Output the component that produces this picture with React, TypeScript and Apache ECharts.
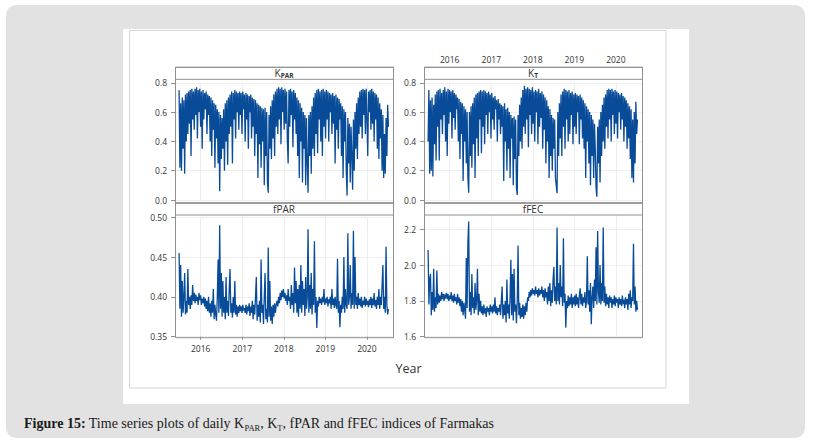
import React, { useEffect, useRef } from "react";
import * as echarts from "echarts";

// Weekly samples of the daily series, starting late June 2015
const startDate = Date.UTC(2015, 5, 25);
const stepDays = 7;
const yearTicks = [2016, 2017, 2018, 2019, 2020];

const kparValues = [
  0.75, 0.22, 0.66, 0.20, 0.70, 0.35, 0.68, 0.18, 0.72, 0.40,
  0.73, 0.45, 0.74, 0.52, 0.75, 0.30, 0.76, 0.55, 0.74, 0.48,
  0.76, 0.58, 0.77, 0.42, 0.75, 0.60, 0.76, 0.50, 0.74, 0.35,
  0.75, 0.55, 0.73, 0.62, 0.74, 0.45, 0.72, 0.58, 0.71,
  0.40, 0.70, 0.30, 0.68, 0.48, 0.66, 0.22, 0.65, 0.42, 0.62, 0.25, 0.60, 0.06,
  0.58, 0.28, 0.56, 0.35, 0.62, 0.20, 0.66, 0.40, 0.68, 0.24, 0.70, 0.45, 0.72,
  0.50, 0.74, 0.25, 0.73, 0.55, 0.75, 0.42, 0.74, 0.60, 0.73, 0.48, 0.74,
  0.58, 0.73, 0.45, 0.74, 0.62, 0.72, 0.40, 0.73, 0.55, 0.72, 0.35, 0.71, 0.60, 0.72, 0.42, 0.70, 0.50,
  0.69, 0.30, 0.68, 0.45, 0.66, 0.15, 0.65, 0.38, 0.64, 0.22, 0.63, 0.40, 0.62, 0.10, 0.63, 0.30, 0.60, 0.12, 0.05,
  0.58, 0.35, 0.64, 0.28, 0.68, 0.42, 0.72, 0.30, 0.74, 0.50,
  0.76, 0.45, 0.77, 0.55, 0.76, 0.38, 0.77, 0.60, 0.75, 0.48, 0.76, 0.52, 0.74, 0.40, 0.25,
  0.75, 0.50, 0.76, 0.58, 0.74, 0.36, 0.75, 0.55, 0.73, 0.45,
  0.70, 0.30, 0.68, 0.15, 0.66, 0.40, 0.63, 0.12, 0.60, 0.35, 0.58, 0.10, 0.56,
  0.25, 0.05, 0.58, 0.30, 0.60, 0.18, 0.64, 0.35,
  0.70, 0.30, 0.73, 0.45, 0.75, 0.32, 0.76, 0.55, 0.74, 0.40, 0.75, 0.30, 0.76, 0.50, 0.74, 0.42, 0.75,
  0.55, 0.74, 0.40, 0.73, 0.60, 0.72, 0.45, 0.73, 0.52, 0.71, 0.25, 0.72, 0.48, 0.70, 0.35, 0.69, 0.55,
  0.66, 0.30, 0.64, 0.15, 0.62, 0.40, 0.60, 0.20, 0.03, 0.56, 0.25, 0.52, 0.12, 0.50, 0.30, 0.07, 0.55,
  0.20, 0.60, 0.35, 0.66, 0.28, 0.70, 0.45, 0.74,
  0.50, 0.75, 0.42, 0.76, 0.58, 0.75, 0.45, 0.76, 0.55, 0.30, 0.74, 0.60, 0.75, 0.48, 0.76, 0.52, 0.74, 0.40, 0.73, 0.55, 0.72,
  0.35, 0.70, 0.28, 0.66, 0.42, 0.62, 0.20, 0.58, 0.15, 0.45, 0.18, 0.56, 0.30, 0.65, 0.50,
];

const ktValues = [
  0.40, 0.75, 0.18, 0.68, 0.20, 0.70, 0.16, 0.65, 0.38, 0.72,
  0.27, 0.74, 0.50, 0.75, 0.27, 0.76, 0.55, 0.73, 0.45, 0.75,
  0.58, 0.77, 0.40, 0.74, 0.30, 0.76, 0.52, 0.75, 0.60, 0.74,
  0.42, 0.75, 0.56, 0.73, 0.48, 0.72, 0.62, 0.70, 0.40,
  0.69, 0.28, 0.67, 0.45, 0.66, 0.13, 0.64, 0.40, 0.62, 0.25, 0.60, 0.15, 0.05,
  0.60, 0.30, 0.64, 0.22, 0.66, 0.38, 0.70, 0.15, 0.72, 0.42, 0.73, 0.30, 0.74,
  0.55, 0.75, 0.32, 0.74, 0.50, 0.75, 0.38, 0.74, 0.58, 0.73, 0.45, 0.74,
  0.60, 0.72, 0.42, 0.73, 0.55, 0.70, 0.48, 0.71, 0.62, 0.68, 0.40, 0.69, 0.55, 0.66, 0.45, 0.65, 0.50,
  0.64, 0.13, 0.66, 0.40, 0.62, 0.20, 0.63, 0.35, 0.60, 0.15, 0.58, 0.42, 0.56, 0.10, 0.57, 0.28, 0.55, 0.08, 0.034,
  0.58, 0.30, 0.65, 0.40, 0.70, 0.35, 0.75, 0.50, 0.78, 0.45,
  0.76, 0.55, 0.77, 0.36, 0.76, 0.58, 0.75, 0.45, 0.77, 0.52, 0.74, 0.40, 0.75, 0.60, 0.74,
  0.38, 0.76, 0.50, 0.73, 0.56, 0.74, 0.35, 0.72, 0.48, 0.70,
  0.25, 0.68, 0.40, 0.64, 0.15, 0.62, 0.30, 0.58, 0.20, 0.56, 0.35, 0.55, 0.15, 0.10, 0.046,
  0.60, 0.30, 0.66, 0.42, 0.72, 0.30, 0.74, 0.50, 0.76, 0.35, 0.75, 0.55, 0.74, 0.40, 0.75, 0.45, 0.73, 0.58, 0.74, 0.38, 0.72, 0.50, 0.73,
  0.45, 0.72, 0.60, 0.71, 0.38, 0.72, 0.55, 0.70, 0.42, 0.68, 0.35, 0.66, 0.15, 0.64, 0.40, 0.62, 0.25,
  0.60, 0.10, 0.58, 0.30, 0.55, 0.15, 0.52, 0.35, 0.08, 0.023, 0.50, 0.25, 0.55, 0.12, 0.60, 0.30, 0.65,
  0.40, 0.70, 0.35, 0.72, 0.50, 0.75, 0.42, 0.76,
  0.55, 0.75, 0.40, 0.76, 0.58, 0.74, 0.45, 0.75, 0.52, 0.74, 0.42, 0.73, 0.60, 0.72, 0.48, 0.73, 0.55, 0.71, 0.40, 0.70, 0.50,
  0.68, 0.35, 0.66, 0.42, 0.64, 0.28, 0.62, 0.15, 0.55, 0.12, 0.60, 0.25, 0.67, 0.45, 0.55,
];

const fparValues = [
  0.455, 0.385, 0.44, 0.375, 0.42, 0.38, 0.40, 0.43, 0.378, 0.395,
  0.38, 0.435, 0.39, 0.40, 0.385, 0.402, 0.39, 0.415, 0.395, 0.405,
  0.392, 0.403, 0.395, 0.40, 0.39, 0.405, 0.396, 0.402, 0.39, 0.398,
  0.392, 0.40, 0.388, 0.398, 0.385, 0.395, 0.382, 0.40, 0.38, 0.392,
  0.375, 0.395, 0.38, 0.41, 0.372, 0.39, 0.378, 0.37, 0.40, 0.447,
  0.38, 0.49, 0.385, 0.43, 0.375, 0.42, 0.38, 0.40, 0.372, 0.425,
  0.38, 0.395, 0.376, 0.41, 0.435, 0.38, 0.392, 0.374, 0.40, 0.38,
  0.42, 0.378, 0.39, 0.375, 0.388, 0.38, 0.39, 0.382, 0.388, 0.38,
  0.39, 0.383, 0.386, 0.38, 0.39, 0.378, 0.388, 0.382, 0.392, 0.376,
  0.388, 0.38, 0.395, 0.372, 0.39, 0.378, 0.40, 0.425, 0.37, 0.39,
  0.375, 0.395, 0.368, 0.447, 0.38, 0.39, 0.366, 0.40, 0.43, 0.372,
  0.385, 0.368, 0.462, 0.375, 0.42, 0.37, 0.388, 0.366, 0.39, 0.375,
  0.392, 0.38, 0.39, 0.395, 0.388, 0.40, 0.392, 0.405, 0.396, 0.408,
  0.40, 0.41, 0.398, 0.405, 0.395, 0.402, 0.39, 0.41, 0.395, 0.40,
  0.385, 0.415, 0.39, 0.405, 0.38, 0.437, 0.392, 0.42, 0.38, 0.41,
  0.375, 0.415, 0.385, 0.44, 0.38, 0.42, 0.39, 0.41, 0.376, 0.425,
  0.385, 0.40, 0.485, 0.38, 0.415, 0.385, 0.43, 0.378, 0.41, 0.39,
  0.47, 0.38, 0.40, 0.361, 0.395, 0.388, 0.40, 0.392, 0.398, 0.39,
  0.40, 0.393, 0.41, 0.39, 0.398, 0.392, 0.40, 0.388, 0.397, 0.392,
  0.40, 0.385, 0.41, 0.39, 0.398, 0.386, 0.40, 0.39, 0.385, 0.448,
  0.38, 0.395, 0.362, 0.39, 0.38, 0.40, 0.385, 0.45, 0.38, 0.41,
  0.39, 0.385, 0.48, 0.39, 0.40, 0.44, 0.385, 0.405, 0.39, 0.483,
  0.385, 0.45, 0.39, 0.40, 0.385, 0.405, 0.39, 0.398, 0.388, 0.40,
  0.386, 0.395, 0.39, 0.40, 0.388, 0.398, 0.39, 0.395, 0.387, 0.397,
  0.39, 0.40, 0.386, 0.398, 0.39, 0.405, 0.388, 0.396, 0.385, 0.40,
  0.39, 0.41, 0.385, 0.40, 0.39, 0.415, 0.44, 0.385, 0.40, 0.38,
  0.463, 0.39, 0.378, 0.385,
];

const ffecValues = [
  2.085, 1.78, 1.92, 1.95, 1.72, 1.85, 1.75, 1.98, 1.74, 1.82,
  1.76, 1.97, 1.78, 1.84, 1.79, 1.83, 1.80, 1.85, 1.81, 1.84,
  1.80, 1.83, 1.82, 1.845, 1.81, 1.84, 1.80, 1.83, 1.81, 1.85,
  1.80, 1.83, 1.79, 1.84, 1.80, 1.82, 1.78, 1.84, 1.79, 1.82,
  1.77, 1.81, 1.74, 1.80, 1.72, 1.79, 1.75, 1.70, 2.04, 1.76,
  2.13, 2.243, 1.74, 1.85, 1.72, 1.95, 1.76, 1.82, 1.73, 1.90,
  1.75, 1.80, 1.98, 1.72, 1.84, 1.74, 1.80, 1.73, 1.77, 1.72,
  1.78, 1.73, 1.76, 1.71, 1.77, 1.74, 1.76, 1.72, 1.78, 1.74,
  1.77, 1.73, 1.78, 1.74, 1.82, 1.73, 1.77, 1.72, 1.76, 1.74,
  1.78, 1.72, 1.80, 1.88, 1.70, 1.78, 1.72, 1.80, 1.68, 1.92,
  1.73, 1.78, 1.70, 1.82, 2.03, 1.72, 1.95, 1.69, 1.98, 1.74,
  1.78, 1.675, 1.80, 2.11, 1.72, 1.79, 1.70, 1.76, 1.71, 1.78,
  1.70, 1.77, 1.72, 1.79, 1.74, 1.82, 1.80, 1.85, 1.82, 1.86,
  1.83, 1.87, 1.84, 1.86, 1.83, 1.88, 1.84, 1.86, 1.82, 1.87,
  1.83, 1.86, 1.84, 1.88, 1.82, 1.86, 1.80, 1.87, 1.82, 1.85,
  1.78, 1.88, 1.80, 1.90, 1.77, 1.86, 1.79, 1.92, 1.99, 1.80,
  1.88, 1.78, 2.21, 1.80, 1.90, 1.78, 2.00, 1.82, 1.88, 1.77,
  2.15, 1.79, 1.84, 1.65, 1.80, 1.76, 1.83, 1.77, 1.82, 1.78,
  1.84, 1.76, 1.82, 1.78, 1.83, 1.77, 1.84, 1.78, 1.82, 1.76,
  1.83, 1.87, 1.78, 1.84, 1.77, 1.82, 1.79, 1.85, 1.76, 1.80,
  2.05, 1.78, 1.86, 1.74, 1.90, 1.67, 1.82, 1.88, 1.76, 1.92,
  1.80, 2.10, 1.78, 2.19, 1.85, 1.79, 2.00, 1.78, 1.90, 1.80,
  2.21, 1.79, 1.88, 1.77, 1.84, 1.78, 1.82, 1.76, 1.83, 1.79,
  1.82, 1.76, 1.81, 1.78, 1.83, 1.77, 1.82, 1.79, 1.81, 1.76,
  1.82, 1.78, 1.81, 1.77, 1.83, 1.79, 1.80, 1.76, 1.82, 1.78,
  1.81, 1.75, 1.84, 1.78, 1.86, 1.76, 1.82, 1.80, 2.12, 1.78,
  1.88, 1.74, 1.80, 1.75,
];

const kparTicks = [0, 0.2, 0.4, 0.6, 0.8];
const ktTicks = [0, 0.2, 0.4, 0.6, 0.8];
const fparTicks = [0.35, 0.4, 0.45, 0.5];
const ffecTicks = [1.6, 1.8, 2.0, 2.2];

const LINE_COLOR = "#084b98";
const FRAME = "#8f8f8f";
const GRIDLINE = "#eeeeee";
const SANS = "'Open Sans', 'Noto Sans', sans-serif";

const DAY = 86400000;
const toPoints = (vals: number[]) => vals.map((v, i) => [startDate + i * stepDays * DAY, v]);

export default function App() {
  const ref = useRef<HTMLDivElement>(null);
  useEffect(() => {
    if (!ref.current) return;
    const chart = echarts.init(ref.current, undefined, { renderer: "svg" });
    const yearStamps = yearTicks.map((y) => Date.UTC(y, 0, 1));
    const xMin = Date.UTC(2015, 4, 20);
    const xMax = Date.UTC(2020, 7, 18);

    const panels = [
      { left: 175, top: 82.8, height: 117.2, min: 0, max: 0.8, ticks: kparTicks, dec: 1, vals: kparValues, xLabel: "none" },
      { left: 424, top: 82.8, height: 117.2, min: 0, max: 0.8, ticks: ktTicks, dec: 1, vals: ktValues, xLabel: "top" },
      { left: 175, top: 217.3, height: 119.4, min: 0.35, max: 0.5, ticks: fparTicks, dec: 2, vals: fparValues, xLabel: "bottom" },
      { left: 424, top: 215, height: 121.7, min: 1.6, max: 2.28, ticks: ffecTicks, dec: 1, vals: ffecValues, xLabel: "none" },
    ];

    const grid = panels.map((p) => ({ left: p.left, top: p.top, width: 218, height: p.height, containLabel: false }));

    const xAxis = panels.map((p, i) => {
      const show = p.xLabel !== "none";
      return {
        type: "value",
        gridIndex: i,
        min: xMin,
        max: xMax,
        position: p.xLabel === "top" ? "top" : "bottom",
        offset: p.xLabel === "top" ? 82.8 - 67.3 : 0,
        axisLine: { show: false },
        axisTick: {
          show: p.xLabel === "bottom",
          customValues: yearStamps,
          length: 3,
          lineStyle: { color: FRAME },
        },
        axisLabel: {
          show,
          customValues: yearStamps,
          formatter: (v: number) => String(new Date(v).getUTCFullYear()),
          fontSize: 8.5,
          fontFamily: SANS,
          color: "#333",
          margin: p.xLabel === "top" ? 3.5 : 7,
        },
        splitLine: { show: true, lineStyle: { color: GRIDLINE, width: 1 } },
      };
    });

    const yAxis = panels.map((p, i) => ({
      type: "value",
      gridIndex: i,
      min: p.min,
      max: p.max,
      axisLine: { show: false },
      axisTick: { show: true, customValues: p.ticks, length: 4, lineStyle: { color: FRAME } },
      axisLabel: {
        customValues: p.ticks,
        formatter: (v: number) => v.toFixed(p.dec),
        fontSize: 8.5,
        fontFamily: SANS,
        color: "#333",
        margin: 8,
      },
      splitLine: { show: true, lineStyle: { color: GRIDLINE, width: 1 } },
    }));

    const series = panels.map((p, i) => ({
      type: "line",
      xAxisIndex: i,
      yAxisIndex: i,
      data: toPoints(p.vals),
      showSymbol: false,
      symbol: "none",
      lineStyle: { color: LINE_COLOR, width: 1.3, join: "miter" },
      emphasis: { disabled: true },
      z: 3,
    }));

    const frames: any[] = [];
    const boxes = [
      { x: 175, y: 67.3, h: 135.7, title: "{n|K}{s|PAR}" },
      { x: 424, y: 67.3, h: 135.7, title: "{n|K}{s|T}" },
      { x: 175, y: 203, h: 134.7, title: "{n|fPAR}" },
      { x: 424, y: 203, h: 134.7, title: "{n|fFEC}" },
    ];
    boxes.forEach((b) => {
      frames.push({
        type: "rect",
        z: 20,
        silent: true,
        shape: { x: b.x + 0.5, y: b.y, width: 218, height: b.h },
        style: { fill: "none", stroke: FRAME, lineWidth: 1 },
      });
      frames.push({
        type: "rect",
        z: 19,
        silent: true,
        shape: { x: b.x + 0.5, y: b.y, width: 218, height: 12 },
        style: { fill: "#ffffff", stroke: FRAME, lineWidth: 1 },
      });
      frames.push({
        type: "text",
        z: 21,
        silent: true,
        x: b.x + 109,
        y: b.y + 6,
        style: {
          text: b.title,
          align: "center",
          verticalAlign: "middle",
          rich: {
            n: { fontSize: 10, fontFamily: SANS, fill: "#333", color: "#333", lineHeight: 12 },
            s: { fontSize: 6.5, fontFamily: SANS, fontWeight: "bold", fill: "#333", color: "#333", lineHeight: 7, verticalAlign: "bottom" },
          },
        },
      });
    });

    const option: any = {
      animation: false,
      backgroundColor: "transparent",
      grid,
      xAxis,
      yAxis,
      series,
      graphic: [
        {
          type: "rect",
          z: -100,
          silent: true,
          shape: { x: 6, y: 5, width: 799, height: 433, r: 10 },
          style: { fill: "#e2e2e2" },
        },
        {
          type: "rect",
          z: -99,
          silent: true,
          shape: { x: 123, y: 29, width: 566, height: 375 },
          style: { fill: "#ffffff" },
        },
        {
          type: "rect",
          z: -98,
          silent: true,
          shape: { x: 129.5, y: 30.5, width: 536.5, height: 357.5 },
          style: { fill: "none", stroke: "#d6d6d6", lineWidth: 1 },
        },
        ...frames,
        {
          type: "text",
          z: 21,
          silent: true,
          x: 408.5,
          y: 368,
          style: {
            text: "Year",
            align: "center",
            verticalAlign: "middle",
            fontSize: 12.5,
            fontFamily: SANS,
            fill: "#333",
          },
        },
        {
          type: "text",
          z: 21,
          silent: true,
          x: 24,
          y: 423,
          style: {
            text: "{b|Figure 15:}{n| Time series plots of daily K}{s|PAR}{n|, K}{s|T}{n|, fPAR and fFEC indices of Farmakas}",
            align: "left",
            verticalAlign: "middle",
            rich: {
              b: { fontSize: 14, fontFamily: "'Liberation Serif', serif", fontWeight: "bold", fill: "#1a1a1a", color: "#1a1a1a", lineHeight: 18 },
              n: { fontSize: 14, fontFamily: "'Liberation Serif', serif", fill: "#1a1a1a", color: "#1a1a1a", lineHeight: 18 },
              s: { fontSize: 8.5, fontFamily: "'Liberation Serif', serif", fill: "#1a1a1a", color: "#1a1a1a", lineHeight: 6, verticalAlign: "bottom" },
            },
          },
        },
      ],
    };
    chart.setOption(option);
    return () => chart.dispose();
  }, []);

  return (
    <div
      ref={ref}
      style={{ position: "absolute", left: 0, top: 0, width: 816, height: 447, background: "#ffffff" }}
    />
  );
}
